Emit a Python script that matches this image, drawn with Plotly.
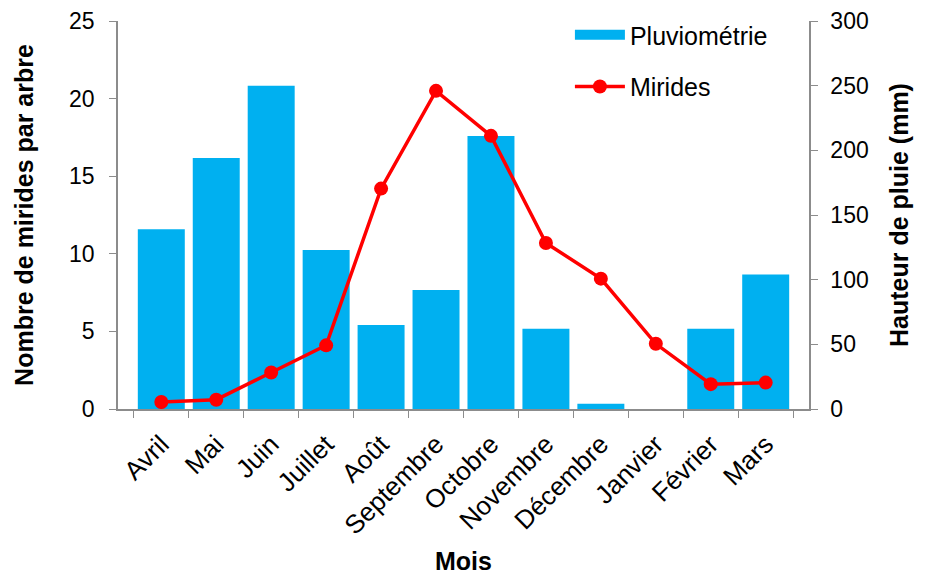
import plotly.graph_objects as go

mois = ["Avril", "Mai", "Juin", "Juillet", "Août", "Septembre", "Octobre",
        "Novembre", "Décembre", "Janvier", "Février", "Mars"]
pluviometrie = [139, 194, 250, 123, 65, 92, 211, 62, 4, 0, 62, 104]
mirides = [0.45, 0.6, 2.35, 4.1, 14.2, 20.5, 17.6, 10.7, 8.4, 4.2, 1.6, 1.7]

FONT = "Liberation Sans, Arial, sans-serif"
AXIS_COLOR = "#8c8c8c"
BAR_COLOR = "#00B0F0"

fig = go.Figure()
fig.add_trace(go.Bar(
    x=mois, y=pluviometrie, name="Pluviométrie", yaxis="y",
    marker=dict(color=BAR_COLOR, line=dict(width=0)),
    showlegend=False,
))
# legend-only entry giving the wide rectangular swatch
fig.add_trace(go.Scatter(
    x=[None], y=[None], name="Pluviométrie", yaxis="y", mode="lines",
    line=dict(color=BAR_COLOR, width=12), legend="legend",
))
fig.add_trace(go.Scatter(
    x=mois, y=mirides, name="Mirides", yaxis="y2", mode="lines+markers",
    line=dict(color="#FF0000", width=3.5),
    marker=dict(color="#FF0000", size=14),
    legend="legend2",
))

fig.update_layout(
    width=925, height=575,
    margin=dict(l=118, r=116, t=21, b=166),
    paper_bgcolor="white", plot_bgcolor="white",
    font=dict(family=FONT, size=23, color="#000000"),
    bargap=0.145,
    showlegend=True,
    xaxis=dict(
        type="category", categoryorder="array", categoryarray=mois,
        showline=True, linecolor=AXIS_COLOR, linewidth=1.5,
        ticks="outside", tickson="boundaries", ticklen=7, tickcolor=AXIS_COLOR,
        tickangle=-45, showgrid=False, automargin=False, ticklabelstandoff=8,
        tickfont=dict(size=26),
        title=dict(text="<b>Mois</b>", font=dict(size=25), standoff=22),
    ),
    yaxis=dict(
        side="right", range=[0, 300], dtick=50,
        showline=True, linecolor=AXIS_COLOR, linewidth=1.5,
        ticks="outside", ticklen=7, tickcolor=AXIS_COLOR, showgrid=False,
        zeroline=False, ticklabelstandoff=8, automargin=False,
        tickfont=dict(size=23),
        title=dict(text="<b>Hauteur de pluie (mm)</b>", font=dict(size=25), standoff=23),
    ),
    yaxis2=dict(
        side="left", overlaying="y", range=[0, 25], dtick=5,
        showline=True, linecolor=AXIS_COLOR, linewidth=1.5,
        ticks="outside", ticklen=7, tickcolor=AXIS_COLOR, showgrid=False,
        zeroline=False, ticklabelstandoff=10, automargin=False,
        tickfont=dict(size=23),
        title=dict(text="<b>Nombre de mirides par arbre</b>", font=dict(size=25), standoff=28),
    ),
    legend=dict(x=0.654, y=1.023, xanchor="left", yanchor="top", itemwidth=50,
                bgcolor="rgba(0,0,0,0)", font=dict(size=25)),
    legend2=dict(x=0.654, y=0.89, xanchor="left", yanchor="top", itemwidth=50,
                 bgcolor="rgba(0,0,0,0)", font=dict(size=25)),
)

fig.write_html("out.html", config={"displayModeBar": False},
               post_script="document.body.style.margin='0';")
